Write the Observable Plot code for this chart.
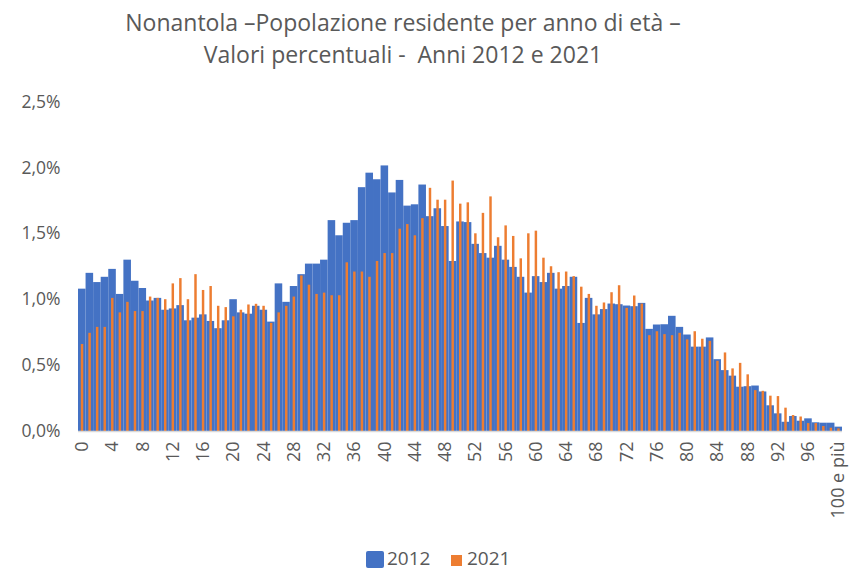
<!DOCTYPE html>
<html>
<head>
<meta charset="utf-8">
<script src="https://cdn.jsdelivr.net/npm/d3@7"></script>
<script src="https://cdn.jsdelivr.net/npm/@observablehq/plot@0.6"></script>
<style>
  html, body { margin: 0; padding: 0; background: #fff; }
  body { width: 850px; height: 570px; position: relative; overflow: hidden; font-family: "Open Sans", sans-serif; color: #595959; }
  #title { position: absolute; left: 0; top: 0; width: 806px; text-align: center; font-size: 23px; line-height: 31.5px; padding-top: 7px; }
  #chart { position: absolute; left: 0; top: 80px; }
  #legend { position: absolute; top: 546px; left: 0; width: 850px; height: 24px; font-size: 19px; }
  .sw { position: absolute; }
  .lt { position: absolute; top: 0; line-height: 24px; }
</style>
</head>
<body>
<div id="title">Nonantola –Popolazione residente per anno di età –<br>Valori percentuali -&nbsp; Anni 2012 e 2021</div>
<div id="chart"></div>
<div id="legend">
  <div class="sw" style="left:366px; top:5px; width:18px; height:17px; background:#4472C4; border-radius:2px;"></div>
  <div class="lt" style="left:387px;">2012</div>
  <div class="sw" style="left:451px; top:9px; width:11px; height:11px; background:#ED7D31;"></div>
  <div class="lt" style="left:467px;">2021</div>
</div>
<script>
// Age categories (0 ... 99, "100 e più")
const ages = d3.range(100).map(String).concat(["100 e più"]);
// Tick labels shown on the x axis
const xTickLabels = ["0","4","8","12","16","20","24","28","32","36","40","44","48","52","56","60","64","68","72","76","80","84","88","92","96","100 e più"];
// Y axis ticks (share of population)
const yTicks = [0, 0.005, 0.01, 0.015, 0.02, 0.025];

// Percent of resident population by age, 2012
const pop2012 = [
  1.08, 1.20, 1.13, 1.17, 1.23, 1.04, 1.30, 1.14, 1.085, 0.99,
  1.01, 0.92, 0.93, 0.955, 0.84, 0.86, 0.885, 0.835, 0.78, 0.84,
  1.00, 0.90, 0.89, 0.95, 0.92, 0.83, 1.12, 0.98, 1.10, 1.19,
  1.27, 1.27, 1.30, 1.60, 1.485, 1.58, 1.60, 1.85, 1.96, 1.91,
  2.015, 1.81, 1.905, 1.71, 1.72, 1.87, 1.63, 1.69, 1.555, 1.29,
  1.59, 1.585, 1.42, 1.35, 1.315, 1.405, 1.30, 1.245, 1.17, 1.05,
  1.175, 1.13, 1.20, 1.08, 1.10, 1.17, 0.82, 1.01, 0.885, 0.925,
  0.967, 0.962, 0.952, 0.947, 0.972, 0.775, 0.808, 0.81, 0.874, 0.79,
  0.732, 0.64, 0.64, 0.71, 0.545, 0.462, 0.42, 0.336, 0.34, 0.345,
  0.30, 0.195, 0.134, 0.07, 0.114, 0.078, 0.096, 0.066, 0.063, 0.063,
  0.033
];

// Percent of resident population by age, 2021
const pop2021 = [
  0.66, 0.745, 0.79, 0.79, 1.01, 0.90, 0.98, 0.91, 0.91, 1.02,
  1.01, 1.00, 1.12, 1.16, 1.00, 1.19, 1.07, 1.10, 0.95, 0.94,
  0.87, 0.92, 0.96, 0.965, 0.95, 0.82, 0.90, 0.95, 1.02, 1.18,
  1.11, 1.04, 1.05, 1.03, 1.03, 1.28, 1.21, 1.21, 1.17, 1.29,
  1.35, 1.35, 1.535, 1.57, 1.485, 1.615, 1.845, 1.755, 1.755, 1.90,
  1.725, 1.735, 1.50, 1.655, 1.78, 1.47, 1.56, 1.48, 1.31, 1.50,
  1.52, 1.315, 1.25, 1.205, 1.21, 1.175, 1.095, 1.04, 0.95, 0.975,
  1.053, 1.106, 0.934, 1.028, 0.967, 0.727, 0.757, 0.735, 0.727, 0.745,
  0.695, 0.757, 0.70, 0.684, 0.533, 0.596, 0.475, 0.517, 0.43, 0.31,
  0.305, 0.268, 0.265, 0.177, 0.121, 0.11, 0.06, 0.06, 0.038, 0.025,
  0.02
];

const rows = ages.map((a, i) => ({age: a, v2012: pop2012[i] / 100, v2021: pop2021[i] / 100}));

const fmt = d => (d * 100).toFixed(1).replace(".", ",") + "%";

const chart = Plot.plot({
  width: 850,
  height: 460,
  marginLeft: 78,
  marginRight: 8,
  marginTop: 21.5,
  marginBottom: 109,
  style: {fontFamily: "Open Sans", fontSize: "17px", color: "#595959", background: "#fff"},
  x: {domain: ages, padding: 0},
  y: {domain: [0, 0.025]},
  marks: [
    Plot.barY(rows, {x: "age", y: "v2012", fill: "#4472C4"}),
    Plot.barY(rows, {x: "age", y: "v2021", fill: "#ED7D31", insetLeft: 2.8, insetRight: 2.3}),
    Plot.ruleY([0], {stroke: "#D9D9D9", strokeWidth: 1.5}),
    Plot.axisY(yTicks, {tickSize: 0, tickPadding: 18, tickFormat: fmt, label: null, fontSize: 17.5, fill: "#595959"}),
    Plot.axisX(xTickLabels, {tickSize: 0, tickPadding: 10, tickRotate: -90, label: null, fontSize: 18, fill: "#595959"})
  ]
});
document.getElementById("chart").appendChild(chart);
</script>
</body>
</html>
